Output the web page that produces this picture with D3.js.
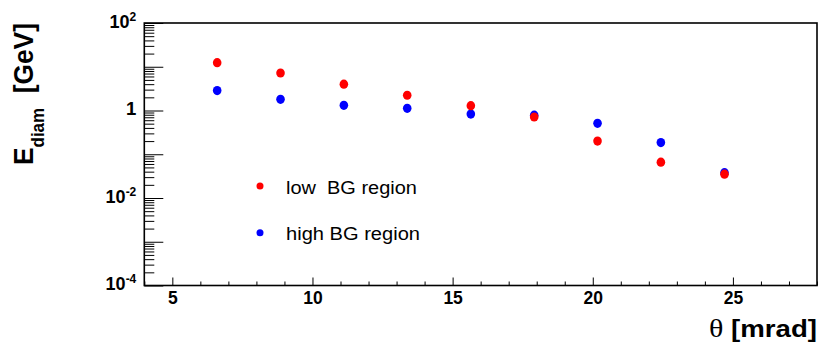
<!DOCTYPE html>
<html>
<head>
<meta charset="utf-8">
<script src="https://cdn.jsdelivr.net/npm/d3@7"></script>
<style>
  html, body { margin: 0; padding: 0; background: #fff; }
  svg { display: block; font-family: "Liberation Sans", Arial, Helvetica, sans-serif; }
</style>
</head>
<body>
<svg id="chart" width="822" height="352"></svg>
<script>
// Scattering angle (mrad) of each bin
const theta = [6.6, 8.86, 11.12, 13.38, 15.65, 17.91, 20.17, 22.43, 24.7];
// Diamond energy deposit (GeV), low background region
const lowBG = [12.4, 7.2, 4.0, 2.23, 1.29, 0.71, 0.20, 0.066, 0.035];
// Diamond energy deposit (GeV), high background region
const highBG = [2.85, 1.80, 1.31, 1.12, 0.83, 0.78, 0.51, 0.185, 0.038];

// Axis ranges and labels
const xDomain = [4, 28];
const yDomain = [1e-4, 1e2];
const xMajorTicks = [5, 10, 15, 20, 25];
const yLabelExponents = [2, 0, -2, -4];

const seriesNames = ["low  BG region", "high BG region"];
const seriesColors = ["#ff0000", "#0000ff"];

const svg = d3.select("#chart");
const frame = { left: 144.3, right: 817, top: 23, bottom: 285.5 };

const x = d3.scaleLinear().domain(xDomain).range([frame.left, frame.right]);
const y = d3.scaleLog().domain(yDomain).range([frame.bottom, frame.top]);

// Minor x ticks every 1 mrad
const xMinor = d3.range(xDomain[0], xDomain[1] + 1, 1).filter(v => !xMajorTicks.includes(v));
svg.append("g")
  .attr("transform", `translate(0,${frame.bottom})`)
  .call(d3.axisBottom(x).tickValues(xMinor).tickSize(-4).tickFormat(""))
  .call(g => g.select(".domain").remove())
  .call(g => g.selectAll("line").attr("stroke", "#000").attr("stroke-width", 1));

svg.append("g")
  .attr("transform", `translate(0,${frame.bottom})`)
  .call(d3.axisBottom(x).tickValues(xMajorTicks).tickSize(-8).tickPadding(6.5).tickFormat(d3.format("d")))
  .call(g => g.select(".domain").remove())
  .call(g => g.selectAll("line").attr("stroke", "#000").attr("stroke-width", 1))
  .call(g => g.selectAll("text")
    .attr("fill", "#000")
    .style("font-size", "17.5px")
    .style("font-weight", "bold")
    .style("font-family", "'Liberation Sans', Arial, sans-serif"));

// Log y axis: minor ticks at 2..9 within each decade, major at each decade
const decades = d3.range(-4, 3).map(e => Math.pow(10, e));
const yMinor = [];
decades.slice(0, -1).forEach(d => { for (let m = 2; m <= 9; m++) yMinor.push(d * m); });

svg.append("g")
  .attr("transform", `translate(${frame.left},0)`)
  .call(d3.axisLeft(y).tickValues(yMinor).tickSize(-10).tickFormat(""))
  .call(g => g.select(".domain").remove())
  .call(g => g.selectAll("line").attr("stroke", "#000").attr("stroke-width", 1));

const yAxisG = svg.append("g")
  .attr("transform", `translate(${frame.left},0)`)
  .call(d3.axisLeft(y).tickValues(decades).tickSize(-19).tickPadding(8).tickFormat(""))
  .call(g => g.select(".domain").remove())
  .call(g => g.selectAll("line").attr("stroke", "#000").attr("stroke-width", 1));

// Decade labels as 10 with superscript exponent
yAxisG.selectAll(".tick")
  .filter(d => yLabelExponents.includes(Math.round(Math.log10(d))))
  .select("text")
  .attr("fill", "#000")
  .attr("dy", "0.42em")
  .style("font-weight", "bold")
  .style("font-family", "'Liberation Sans', Arial, sans-serif")
  .each(function(d) {
    const e = Math.round(Math.log10(d));
    const t = d3.select(this);
    if (e === 0) {
      t.append("tspan").style("font-size", "18.5px").text("1");
    } else {
      t.append("tspan").style("font-size", "18px").text("10");
      t.append("tspan").style("font-size", "12px").attr("dy", "-7").text(String(e));
    }
  });

// Frame
svg.append("rect")
  .attr("x", frame.left).attr("y", frame.top)
  .attr("width", frame.right - frame.left).attr("height", frame.bottom - frame.top)
  .attr("fill", "none").attr("stroke", "#000").attr("stroke-width", 1.6);

// Data points (red drawn on top)
const plot = svg.append("g");
[[highBG, seriesColors[1]], [lowBG, seriesColors[0]]].forEach(([vals, col]) => {
  plot.selectAll(null)
    .data(vals.map((v, i) => ({ t: theta[i], v })))
    .join("ellipse")
    .attr("cx", d => x(d.t))
    .attr("cy", d => y(d.v))
    .attr("rx", 4.3)
    .attr("ry", 4.6)
    .attr("fill", col);
});

// Stretch a text element along its reading direction to a given length
function fitLength(sel, target) {
  const w = sel.node().getComputedTextLength();
  return w > 0 ? target / w : 1;
}

// Legend
const legendRows = [
  { name: seriesNames[0], color: seriesColors[0], cy: 186, base: 193.5, len: 131 },
  { name: seriesNames[1], color: seriesColors[1], cy: 232.7, base: 240.2, len: 134 }
];
legendRows.forEach(r => {
  svg.append("circle").attr("cx", 260).attr("cy", r.cy).attr("r", 3.5).attr("fill", r.color);
  const t = svg.append("text")
    .attr("x", 0).attr("y", 0)
    .style("white-space", "pre")
    .style("font-size", "19px")
    .attr("fill", "#000")
    .text(r.name);
  const s = fitLength(t, r.len);
  t.attr("transform", `translate(286,${r.base}) scale(${s},1)`);
});

// X axis title
const xt = svg.append("text")
  .attr("text-anchor", "end")
  .attr("fill", "#000");
xt.append("tspan")
  .style("font-family", "'Liberation Serif', 'Times New Roman', serif")
  .style("font-size", "25px")
  .text("θ");
xt.append("tspan")
  .style("font-weight", "bold")
  .style("font-size", "23px")
  .style("white-space", "pre")
  .text(" [mrad]");
const sx = fitLength(xt, 108);
xt.attr("transform", `translate(817,337) scale(${sx},1)`);

// Y axis title
const yt = svg.append("text")
  .attr("fill", "#000")
  .style("font-weight", "bold")
  .style("white-space", "pre");
yt.append("tspan").style("font-size", "28px").text("E");
yt.append("tspan").style("font-size", "18px").attr("dy", 11).text("diam");
yt.append("tspan").style("font-size", "28px").attr("dy", -11).text("  [GeV]");
const sy = fitLength(yt, 142);
yt.attr("transform", `translate(33,165) rotate(-90) scale(${sy},1)`);
</script>
</body>
</html>
